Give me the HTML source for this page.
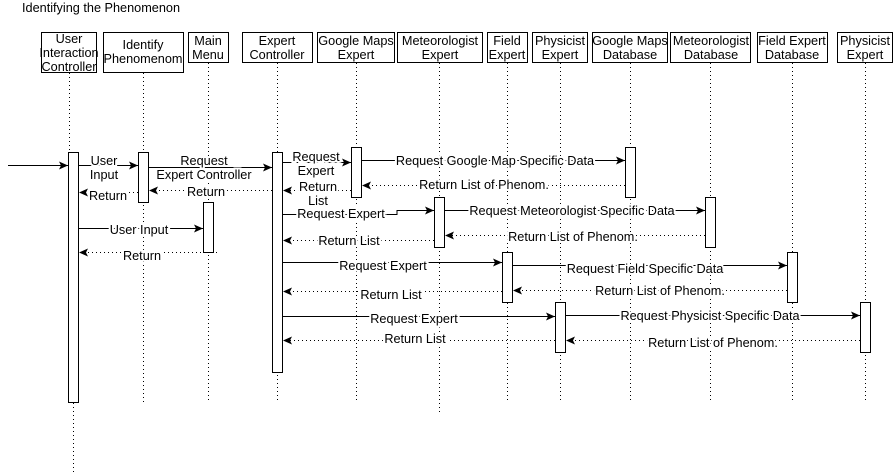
<!DOCTYPE html>
<html><head><meta charset="utf-8"><style>
body{margin:0;background:#fff;}
svg{display:block;font-family:"Liberation Sans",Arial,sans-serif;font-size:12.7px;}
</style></head><body>
<svg width="896" height="476" viewBox="0 0 896 476" xmlns="http://www.w3.org/2000/svg">
<defs>
<marker id="a" markerWidth="10" markerHeight="8" refX="9" refY="4" orient="auto" markerUnits="userSpaceOnUse">
<path d="M0,0 L9,4 L0,8 L2,4 Z" fill="#000"/></marker>
</defs>
<text x="22" y="12" fill="#000">Identifying the Phenomenon</text>
<g fill="#fff" stroke="#000" stroke-width="1">
<rect x="41.5" y="32.5" width="55" height="40"/>
<rect x="103.5" y="32.5" width="80" height="40"/>
<rect x="188.5" y="32.5" width="40" height="30"/>
<rect x="242.5" y="32.5" width="70" height="30"/>
<rect x="317.5" y="32.5" width="77" height="30"/>
<rect x="397.5" y="32.5" width="85" height="30"/>
<rect x="487.5" y="32.5" width="40" height="30"/>
<rect x="532.5" y="32.5" width="55" height="30"/>
<rect x="592.5" y="32.5" width="75" height="30"/>
<rect x="670.5" y="32.5" width="80" height="30"/>
<rect x="757.5" y="32.5" width="70" height="30"/>
<rect x="837.5" y="32.5" width="55" height="30"/>
</g>
<g text-anchor="middle" fill="#000">
<text x="69" y="43">User</text><text x="69" y="57">Interaction</text><text x="69" y="71">Controller</text>
<text x="143" y="49">Identify</text><text x="143" y="63">Phenomenom</text>
<text x="208" y="45">Main</text><text x="208" y="59">Menu</text>
<text x="277" y="45">Expert</text><text x="277" y="59">Controller</text>
<text x="356" y="45">Google Maps</text><text x="356" y="59">Expert</text>
<text x="440" y="45">Meteorologist</text><text x="440" y="59">Expert</text>
<text x="507" y="45">Field</text><text x="507" y="59">Expert</text>
<text x="560" y="45">Physicist</text><text x="560" y="59">Expert</text>
<text x="630" y="45">Google Maps</text><text x="630" y="59">Database</text>
<text x="711" y="45">Meteorologist</text><text x="711" y="59">Database</text>
<text x="792" y="45">Field Expert</text><text x="792" y="59">Database</text>
<text x="865" y="45">Physicist</text><text x="865" y="59">Expert</text>
</g>
<g stroke="#000" stroke-width="1" stroke-dasharray="1,3">
<line x1="69.5" y1="73" x2="69.5" y2="152"/>
<line x1="73.5" y1="403" x2="73.5" y2="472"/>
<line x1="143.5" y1="73" x2="143.5" y2="402"/>
<line x1="208.5" y1="63" x2="208.5" y2="402"/>
<line x1="277.5" y1="63" x2="277.5" y2="402"/>
<line x1="356.5" y1="63" x2="356.5" y2="402"/>
<line x1="439.5" y1="63" x2="439.5" y2="412"/>
<line x1="507.5" y1="63" x2="507.5" y2="402"/>
<line x1="560.5" y1="63" x2="560.5" y2="402"/>
<line x1="630.5" y1="63" x2="630.5" y2="402"/>
<line x1="710.5" y1="63" x2="710.5" y2="402"/>
<line x1="792.5" y1="63" x2="792.5" y2="402"/>
<line x1="865.5" y1="63" x2="865.5" y2="402"/>
</g>
<g fill="#fff" stroke="#000" stroke-width="1">
<rect x="68.5" y="152.5" width="10" height="250"/>
<rect x="138.5" y="152.5" width="10" height="50"/>
<rect x="203.5" y="202.5" width="10" height="50"/>
<rect x="272.5" y="152.5" width="10" height="220"/>
<rect x="351.5" y="147.5" width="10" height="50"/>
<rect x="434.5" y="197.5" width="10" height="50"/>
<rect x="502.5" y="252.5" width="10" height="50"/>
<rect x="555.5" y="302.5" width="10" height="50"/>
<rect x="625.5" y="147.5" width="10" height="50"/>
<rect x="705.5" y="197.5" width="10" height="50"/>
<rect x="787.5" y="252.5" width="10" height="50"/>
<rect x="860.5" y="302.5" width="10" height="50"/>
</g>
<g stroke="#000" stroke-width="1" fill="none" marker-end="url(#a)">
<line x1="8" y1="165.5" x2="68" y2="165.5"/>
<line x1="78" y1="165.5" x2="138" y2="165.5"/>
<line x1="148" y1="167.5" x2="272" y2="167.5"/>
<line x1="282" y1="162.5" x2="351" y2="162.5"/>
<line x1="361" y1="160.5" x2="625" y2="160.5"/>
<polyline points="282,214.5 397,214.5 397,210.5 434,210.5"/>
<line x1="444" y1="210.5" x2="705" y2="210.5"/>
<line x1="78" y1="228.5" x2="203" y2="228.5"/>
<line x1="282" y1="262.5" x2="502" y2="262.5"/>
<line x1="512" y1="265.5" x2="787" y2="265.5"/>
<line x1="282" y1="316.5" x2="555" y2="316.5"/>
<line x1="565" y1="315.5" x2="860" y2="315.5"/>
</g>
<g stroke="#000" stroke-width="1" fill="none" stroke-dasharray="1,3" marker-end="url(#a)">
<line x1="138" y1="192.5" x2="79" y2="192.5"/>
<line x1="272" y1="190.5" x2="149" y2="190.5"/>
<line x1="625" y1="185.5" x2="362" y2="185.5"/>
<line x1="351" y1="190.5" x2="283" y2="190.5"/>
<line x1="705" y1="235.5" x2="445" y2="235.5"/>
<line x1="434" y1="240.5" x2="283" y2="240.5"/>
<line x1="217" y1="252.5" x2="79" y2="252.5"/>
<line x1="787" y1="290.5" x2="513" y2="290.5"/>
<line x1="502" y1="291.5" x2="283" y2="291.5"/>
<line x1="860" y1="340.5" x2="566" y2="340.5"/>
<line x1="555" y1="340.5" x2="283" y2="340.5"/>
</g>
<g text-anchor="middle" fill="#000" stroke="#fff" stroke-width="4" paint-order="stroke">
<text x="104" y="165">User</text><text x="104" y="179">Input</text>
<text x="108" y="200">Return</text>
<text x="204" y="165">Request</text><text x="204" y="179">Expert Controller</text>
<text x="206" y="196">Return</text>
<text x="316" y="161">Request</text><text x="316" y="175">Expert</text>
<text x="318" y="191">Return</text><text x="318" y="205">List</text>
<text x="495" y="165">Request Google Map Specific Data</text>
<text x="484" y="189">Return List of Phenom.</text>
<text x="341" y="218">Request Expert</text>
<text x="572" y="215">Request Meteorologist Specific Data</text>
<text x="573" y="241">Return List of Phenom.</text>
<text x="349" y="245">Return List</text>
<text x="139" y="234">User Input</text>
<text x="142" y="260">Return</text>
<text x="383" y="270">Request Expert</text>
<text x="645" y="273">Request Field Specific Data</text>
<text x="660" y="295">Return List of Phenom.</text>
<text x="391" y="299">Return List</text>
<text x="414" y="323">Request Expert</text>
<text x="710" y="320">Request Physicist Specific Data</text>
<text x="713" y="347">Return List of Phenom.</text>
<text x="415" y="343">Return List</text>
</g>
</svg>
</body></html>
